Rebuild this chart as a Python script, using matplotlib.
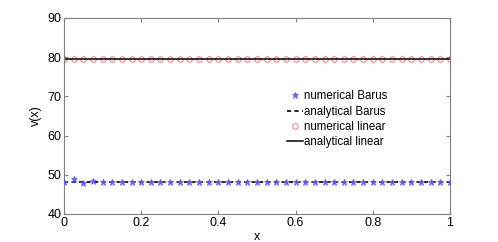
import numpy as np
import matplotlib.pyplot as plt

plt.rcParams['font.family'] = ['Liberation Sans', 'DejaVu Sans']

# grid of 41 points
x = np.linspace(0, 1, 41)

# values
barus_analytic = 48.2
barus_numeric = [48.2, 48.9, 48.0, 48.4] + [48.2] * 37
linear_analytic = 79.6
linear_numeric = [79.6] * 41

fig = plt.figure(figsize=(4.98, 2.42), dpi=100)
ax = fig.add_axes([0.1285, 0.116, 0.775, 0.81])

ax.plot(x, barus_numeric, '*', color='#5a5aff', ms=4.5, mew=0.6, zorder=3, label='numerical Barus')
ax.plot(x, [barus_analytic] * len(x), '--', color='black', lw=1.2, dashes=(2.5, 2), label='analytical Barus')
ax.plot(x, linear_numeric, 'o', mfc='none', mec='#ff7070', ms=4, mew=0.7, label='numerical linear')
ax.plot(x, [linear_analytic] * len(x), '-', color='black', lw=1.1, label='analytical linear')

ax.set_xlim(0, 1)
ax.set_ylim(40, 90)
ax.set_xticks([0, 0.2, 0.4, 0.6, 0.8, 1])
ax.set_xticklabels(['0', '0.2', '0.4', '0.6', '0.8', '1'])
ax.set_yticks([40, 50, 60, 70, 80, 90])
ax.set_xlabel('x', fontsize=9, labelpad=2)
ax.set_ylabel('v(x)', fontsize=9, labelpad=4)

for s in ax.spines.values():
    s.set_color('#808080')
ax.tick_params(direction='in', top=True, right=True, length=3, color='#808080',
               labelsize=9, pad=2)

ax.legend(loc='upper left', bbox_to_anchor=(0.578, 0.63), frameon=False, fontsize=8.3,
          handlelength=1.35, handletextpad=0.1, labelspacing=0.27, borderaxespad=0,
          borderpad=0)

fig.savefig('out.png', dpi=100)
